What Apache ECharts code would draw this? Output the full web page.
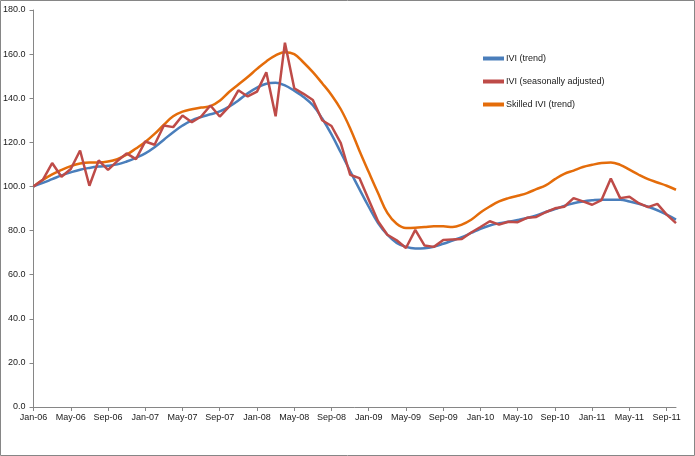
<!DOCTYPE html>
<html>
<head>
<meta charset="utf-8">
<script src="https://cdn.jsdelivr.net/npm/echarts@6/dist/echarts.min.js"></script>
<style>html,body{margin:0;padding:0;background:#fff}#c{width:695px;height:456px}</style>
</head>
<body>
<div id="c"></div>
<script>
const months = ['Jan','Feb','Mar','Apr','May','Jun','Jul','Aug','Sep','Oct','Nov','Dec'];
const years = ['06','07','08','09','10','11'];
const categories = [];
for (const y of years) for (const m of months) categories.push(m + '-' + y);
categories.length = 70; // Jan-06 .. Oct-11

const ivTrend = [100,101.6,103.3,105.0,106.4,107.6,108.4,109.0,109.4,110.0,111.3,113.0,
115.0,117.8,121.2,124.6,127.6,130.0,131.5,132.7,134.0,136.2,139.0,142.2,
144.8,146.6,147.0,145.8,143.4,140.6,136.8,130.8,123.6,115.4,107.0,98.8,
90.8,83.4,78.1,74.4,72.6,71.9,72.0,72.7,74.0,75.5,77.0,78.9,
80.8,82.3,83.3,84.0,84.8,85.7,86.8,88.4,89.7,91.2,92.4,93.2,
93.7,94.0,94.0,94.0,93.2,92.1,90.8,89.2,87.2,85.0];

const ivSA = [100,103,110.6,104.4,107.9,116.3,100.3,111.8,107.5,111.5,115.0,112.4,
120.4,118.9,127.6,126.9,132.2,129.1,131.7,136.7,131.7,136.2,143.6,140.8,
143.0,151.8,131.8,165.2,144.5,142.0,139.2,130.0,127.4,119.6,105.3,103.8,
94.0,84.2,78.1,75.6,72.1,80.3,73.2,72.6,75.7,76.0,76.2,79.1,
81.6,84.2,82.7,84.0,83.8,85.8,86.2,88.3,90.1,90.8,94.7,93.2,
91.7,93.8,103.6,94.7,95.3,92.4,90.6,92.1,87.2,83.4];

const skilledTrend = [100,103,105.5,107.5,109.2,110.4,110.9,110.9,111.3,112.4,114.4,117.2,
120.2,123.8,128.0,131.8,133.9,135.0,135.8,136.4,138.9,142.8,146.2,149.6,
153.3,156.7,159.4,160.9,160.0,156.2,151.8,146.8,141.5,135.0,126.4,116.2,
106.5,97.0,88.0,83.1,81.2,81.3,81.6,81.9,81.9,81.6,82.7,84.9,
88.2,90.9,93.2,94.7,95.8,97.0,98.8,100.5,103.3,105.7,107.2,108.8,
109.8,110.6,110.9,109.8,107.6,105.3,103.3,101.8,100.3,98.5];

const seriesNames = ['IVI (trend)','IVI (seasonally adjusted)','Skilled IVI (trend)'];
const colors = ['#4A7EBB','#BE4B48','#E46C0A'];
const FONT = '"Liberation Sans Narrow","Liberation Sans",sans-serif';

const chart = echarts.init(document.getElementById('c'), null, {renderer:'canvas'});
chart.setOption({
  animation:false,
  backgroundColor:'#fff',
  color: colors,
  graphic:[{type:'rect',shape:{x:0.5,y:0.5,width:694,height:455},style:{fill:'none',stroke:'#868686',lineWidth:1},silent:true}],
  grid:{left:32,right:19,top:10,bottom:49,containLabel:false},
  legend:{
    orient:'vertical', left:478, top:49, itemWidth:21, itemHeight:4, itemGap:14,
    icon:'rect',
    textStyle:{fontFamily:FONT,fontSize:9,color:'#1a1a1a',padding:[0,0,0,-3]},
    data:seriesNames
  },
  xAxis:{
    type:'category', data:categories, boundaryGap:false,
    axisLine:{lineStyle:{color:'#868686',width:1}},
    axisTick:{interval:3,length:4,lineStyle:{color:'#868686'}},
    axisLabel:{interval:3,margin:6,fontFamily:FONT,fontSize:9,color:'#1a1a1a'},
    splitLine:{show:false}
  },
  yAxis:{
    type:'value', min:0, max:180, interval:20,
    axisLine:{show:true,lineStyle:{color:'#868686',width:1}},
    axisTick:{show:true,length:4,lineStyle:{color:'#868686'}},
    axisLabel:{margin:8,fontFamily:FONT,fontSize:9,color:'#1a1a1a',formatter:v=>v.toFixed(1)},
    splitLine:{show:false}
  },
  series:[
    {name:seriesNames[0],type:'line',data:ivTrend,smooth:0.4,showSymbol:false,lineStyle:{width:2.5,color:colors[0]},z:2},
    {name:seriesNames[1],type:'line',data:ivSA,smooth:false,showSymbol:false,lineStyle:{width:2.5,color:colors[1]},z:3},
    {name:seriesNames[2],type:'line',data:skilledTrend,smooth:0.4,showSymbol:false,lineStyle:{width:2.5,color:colors[2]},z:1}
  ]
});
</script>
</body>
</html>
